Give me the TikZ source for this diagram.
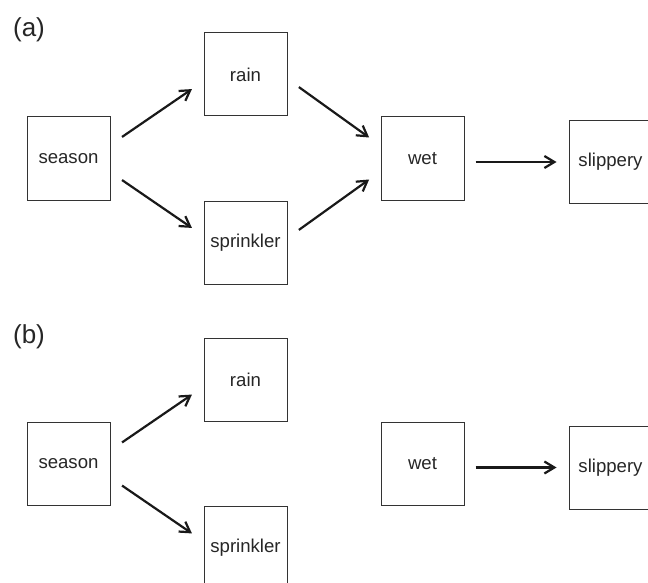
\documentclass[tikz,border=0pt]{standalone}
\usepackage{fontspec}
\setmainfont{Liberation Sans}
\usetikzlibrary{arrows.meta,positioning}

\begin{document}
\begin{tikzpicture}[x=0.5pt,y=-0.5pt,>={Straight Barb[length=5pt,width=6pt]},box/.style={draw=black!80,line width=0.5pt,rectangle,minimum size=41.5pt,inner sep=0pt,text=black!85,font=\fontsize{9.3}{11}\selectfont},panel/.style={text=black!85,font=\fontsize{13}{15}\selectfont},link/.style={->,draw=black!90,line width=1.1pt,shorten >=7pt,shorten <=7pt}]
	\useasboundingbox (0,0) rectangle (648,583);

	\node[panel]	(labelA)	at (29,30)									{(a)};
	\node[box]		(seasonA)	at (68.5,158.5)								{season};
	\node[box]		(rainA)		[above right=0pt and 46.5pt of seasonA]		{rain};
	\node[box]		(sprinklerA)	[below right=0pt and 46.5pt of seasonA]	{sprinkler};
	\node[box]		(wetA)		[below right=0pt and 46.5pt of rainA]		{wet};
	\node[box]		(slipperyA)	[right=52pt of wetA,yshift=-1.75pt]			{slippery};

	\path
		(seasonA.18)			edge	[link]		(rainA.189)
		(seasonA.-18)			edge	[link]		(sprinklerA.171)
		(rainA.-6)				edge	[link]		(wetA.163)
		(sprinklerA.6)			edge	[link]		(wetA.197)
		(wetA.east |- slipperyA)	edge	[link,shorten <=5.5pt,shorten >=6pt]	(slipperyA)
	;

	\node[panel]	(labelB)	at (29,336.5)								{(b)};
	\node[box]		(seasonB)	at (68.5,464)								{season};
	\node[box]		(rainB)		[above right=0pt and 46.5pt of seasonB]		{rain};
	\node[box]		(sprinklerB)	[below right=0pt and 46.5pt of seasonB]	{sprinkler};
	\node[box]		(wetB)		[below right=0pt and 46.5pt of rainB]		{wet};
	\node[box]		(slipperyB)	[right=52pt of wetB,yshift=-1.75pt]			{slippery};

	\path
		(seasonB.18)			edge	[link]		(rainB.189)
		(seasonB.-18)			edge	[link]		(sprinklerB.171)
		(wetB.east |- slipperyB)	edge	[link,shorten <=5.5pt,shorten >=6pt]	(slipperyB)
	;
\end{tikzpicture}
\end{document}
